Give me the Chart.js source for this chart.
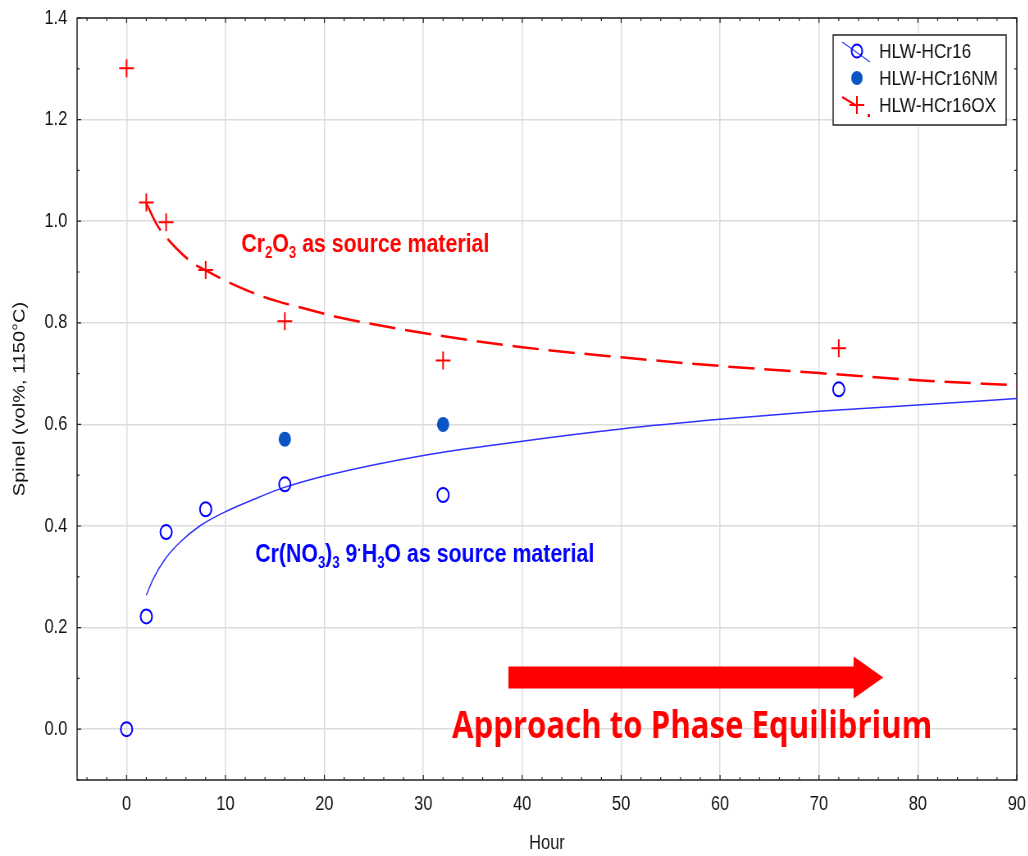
<!DOCTYPE html>
<html>
<head>
<meta charset="utf-8">
<script src="https://cdn.jsdelivr.net/npm/chart.js@4.4.1/dist/chart.umd.min.js"></script>
<style>
  html, body { margin: 0; padding: 0; background: #fff; overflow: hidden; }
  /* plot is laid out wide and squeezed horizontally, like the original figure */
  #wrap { width: 1254px; height: 856px; transform: scaleX(0.82); transform-origin: 0 0; }
</style>
</head>
<body>
<div id="wrap"><canvas id="spinelChart"></canvas></div>
<script>
'use strict';

// measured spinel fraction (vol%) vs. hours at 1150°C
const hours   = [0, 2, 4, 8, 16, 32, 72];
const hcr16   = [0.000, 0.222, 0.388, 0.433, 0.482, 0.461, 0.669];
const hcr16OX = [1.301, 1.037, 0.998, 0.904, 0.803, 0.726, 0.750];
const nmHours = [16, 32];
const hcr16NM = [0.571, 0.600];

// fitted trend curves
const oxFitHours = [2, 3.1, 4.2, 6.6, 8.1, 10.3, 14, 17.8, 21.4, 30, 40, 50, 60, 70, 80, 90];
const oxFit      = [1.035, 0.992, 0.964, 0.919, 0.902, 0.880, 0.850, 0.829, 0.811, 0.780, 0.752, 0.732, 0.715, 0.701, 0.687, 0.677];
const nmFitHours = [2, 2.7, 3.9, 5.4, 7.4, 10.2, 12.8, 15.8, 20.3, 30, 40, 50, 60, 70, 80, 90];
const nmFit      = [0.264, 0.296, 0.335, 0.368, 0.400, 0.430, 0.452, 0.475, 0.500, 0.539, 0.567, 0.591, 0.610, 0.626, 0.638, 0.651];

const xTicks = [0, 10, 20, 30, 40, 50, 60, 70, 80, 90];
const yTicks = [0.0, 0.2, 0.4, 0.6, 0.8, 1.0, 1.2, 1.4];

const RED  = '#ff0000';
const BLUE = '#0000ff';
const NAVY = '#0a55c6';
const GRID = '#dcdcdc';
const SANS = "'Liberation Sans', Arial, sans-serif";

Chart.defaults.font.family = SANS;
Chart.defaults.font.size   = 20;
Chart.defaults.color       = '#111';

const pts = (xs, ys) => xs.map((x, i) => ({ x, y: ys[i] }));

// ── bold text with sub/superscript pieces ─────────────────
function richText(ctx, parts, x, y, size, color) {
    ctx.fillStyle = color;
    ctx.textAlign = 'left';
    ctx.textBaseline = 'alphabetic';
    for (const p of parts) {
        const small = p.sub || p.sup;
        ctx.font = `bold ${small ? Math.round(size * 0.62) : size}px ${SANS}`;
        const dy = p.sub ? size * 0.24 : p.sup ? -size * 0.28 : 0;
        ctx.fillText(p.t, x, y + dy);
        x += ctx.measureText(p.t).width;
    }
}

// ── box frame with inward tick marks on all four sides ────
const framePlugin = {
    id: 'frame',
    beforeDatasetsDraw(chart) {
        const { ctx, chartArea: a, scales: { x, y } } = chart;
        ctx.save();
        ctx.strokeStyle = '#222';
        ctx.lineWidth = 1.5;
        ctx.strokeRect(a.left, a.top, a.right - a.left, a.bottom - a.top);
        ctx.lineWidth = 1.2;
        ctx.beginPath();
        for (let v = -4; v <= 90; v += 2) {
            const px = x.getPixelForValue(v);
            const len = v % 10 === 0 ? 5 : 3;
            ctx.moveTo(px, a.bottom); ctx.lineTo(px, a.bottom - len);
            ctx.moveTo(px, a.top);    ctx.lineTo(px, a.top + len);
        }
        for (let k = -1; k <= 14; k++) {
            const py = y.getPixelForValue(k / 10);
            const len = k % 2 === 0 ? 5 : 3;
            ctx.moveTo(a.left, py);  ctx.lineTo(a.left + len, py);
            ctx.moveTo(a.right, py); ctx.lineTo(a.right - len, py);
        }
        ctx.stroke();
        ctx.restore();
    }
};

// ── text labels, arrow and boxed legend ───────────────────
const notesPlugin = {
    id: 'notes',
    afterDraw(chart) {
        const { ctx, scales: { x, y } } = chart;
        ctx.save();

        richText(ctx, [
            { t: 'Cr' }, { t: '2', sub: true }, { t: 'O' }, { t: '3', sub: true }, { t: ' as source material' }
        ], x.getPixelForValue(11.6), y.getPixelForValue(0.939), 26, RED);

        richText(ctx, [
            { t: 'Cr(NO' }, { t: '3', sub: true }, { t: ')' }, { t: '3', sub: true }, { t: ' 9' },
            { t: '·', sup: true }, { t: 'H' }, { t: '3', sub: true }, { t: 'O as source material' }
        ], x.getPixelForValue(13.0), y.getPixelForValue(0.329), 26, BLUE);

        // arrow towards equilibrium
        const x0 = x.getPixelForValue(38.6), xb = x.getPixelForValue(73.5), xt = x.getPixelForValue(76.5);
        const yc = y.getPixelForValue(0.102);
        ctx.fillStyle = RED;
        ctx.beginPath();
        ctx.moveTo(x0, yc - 11); ctx.lineTo(xb, yc - 11); ctx.lineTo(xb, yc - 21);
        ctx.lineTo(xt, yc);
        ctx.lineTo(xb, yc + 21); ctx.lineTo(xb, yc + 11); ctx.lineTo(x0, yc + 11);
        ctx.closePath();
        ctx.fill();

        ctx.font = "bold 38px 'Open Sans', sans-serif";
        ctx.textAlign = 'left';
        ctx.textBaseline = 'alphabetic';
        ctx.fillText('Approach to Phase Equilibrium', x.getPixelForValue(32.9), y.getPixelForValue(-0.018));

        // legend box
        const ds = chart.data.datasets;
        ctx.fillStyle = '#fff';
        ctx.fillRect(1016, 35, 211, 90);
        ctx.strokeStyle = '#222';
        ctx.lineWidth = 1.5;
        ctx.strokeRect(1016, 35, 211, 90);

        const sx = 1045;
        // open circle with a fit line through it
        ctx.strokeStyle = '#3030ff';
        ctx.lineWidth = 1.2;
        ctx.beginPath(); ctx.moveTo(1027, 42); ctx.lineTo(1061, 62); ctx.stroke();
        ctx.strokeStyle = BLUE;
        ctx.lineWidth = 2;
        ctx.beginPath(); ctx.arc(sx, 51, 6.5, 0, Math.PI * 2); ctx.stroke();
        // filled circle
        ctx.fillStyle = NAVY;
        ctx.beginPath(); ctx.arc(sx, 78, 7, 0, Math.PI * 2); ctx.fill();
        // cross with a dashed fit line
        ctx.strokeStyle = RED;
        ctx.lineWidth = 2;
        ctx.beginPath();
        ctx.moveTo(1027, 97); ctx.lineTo(1045, 106);
        ctx.moveTo(sx - 9, 105); ctx.lineTo(sx + 9, 105);
        ctx.moveTo(sx, 96); ctx.lineTo(sx, 114);
        ctx.stroke();
        ctx.fillStyle = RED;
        ctx.fillRect(1058, 114, 3, 3);

        ctx.fillStyle = '#111';
        ctx.font = `21px ${SANS}`;
        ctx.textBaseline = 'middle';
        [51, 78, 105].forEach((py, i) => ctx.fillText(ds[i].label, 1072, py + 1));

        ctx.restore();
    }
};

new Chart(document.getElementById('spinelChart'), {
    type: 'scatter',
    data: {
        datasets: [
            {
                label: 'HLW-HCr16',
                data: pts(hours, hcr16),
                pointStyle: 'circle',
                pointRadius: 7,
                borderWidth: 2,
                borderColor: BLUE,
                backgroundColor: 'rgba(0,0,0,0)',
                order: 1,
            },
            {
                label: 'HLW-HCr16NM',
                data: pts(nmHours, hcr16NM),
                pointStyle: 'circle',
                pointRadius: 7.5,
                borderWidth: 0,
                borderColor: NAVY,
                backgroundColor: NAVY,
                order: 1,
            },
            {
                label: 'HLW-HCr16OX',
                data: pts(hours, hcr16OX),
                pointStyle: 'cross',
                pointRadius: 9,
                borderWidth: 2,
                borderColor: RED,
                order: 1,
            },
            {
                label: 'OX fit',
                data: pts(oxFitHours, oxFit),
                showLine: true,
                pointRadius: 0,
                borderColor: RED,
                borderWidth: 2.5,
                borderDash: [32, 12],
                cubicInterpolationMode: 'monotone',
                order: 2,
            },
            {
                label: 'fit',
                data: pts(nmFitHours, nmFit),
                showLine: true,
                pointRadius: 0,
                borderColor: '#3030ff',
                borderWidth: 1.5,
                cubicInterpolationMode: 'monotone',
                order: 2,
            }
        ]
    },
    options: {
        responsive: true,
        maintainAspectRatio: false,
        animation: false,
        layout: { padding: { left: 0, right: 14, top: 18, bottom: 0 } },
        plugins: { legend: { display: false }, tooltip: { enabled: false } },
        scales: {
            x: {
                type: 'linear',
                min: -5,
                max: 90,
                afterBuildTicks: s => { s.ticks = xTicks.map(v => ({ value: v })); },
                // fixed axis height; end labels may hang into the side margins
                afterFit: s => { s.height = 76; s.paddingLeft = 0; s.paddingRight = 0; },
                grid: { color: GRID, lineWidth: 1.5, drawTicks: false },
                border: { display: false },
                ticks: { padding: 12, maxRotation: 0, autoSkip: false },
                title: { display: true, text: 'Hour', font: { size: 20 }, padding: { top: 0, bottom: 1 } }
            },
            y: {
                type: 'linear',
                min: -0.1,
                max: 1.4,
                afterBuildTicks: s => { s.ticks = yTicks.map(v => ({ value: v })); },
                afterFit: s => { s.width = 94; s.paddingTop = 0; s.paddingBottom = 0; },
                grid: { color: GRID, lineWidth: 1.5, drawTicks: false },
                border: { display: false },
                ticks: { padding: 12, autoSkip: false, callback: v => Number(v).toFixed(1) },
                title: { display: true, text: 'Spinel (vol%, 1150°C)', font: { size: 20 }, padding: { top: 12, bottom: 0 } }
            }
        }
    },
    plugins: [framePlugin, notesPlugin]
});
</script>
</body>
</html>
